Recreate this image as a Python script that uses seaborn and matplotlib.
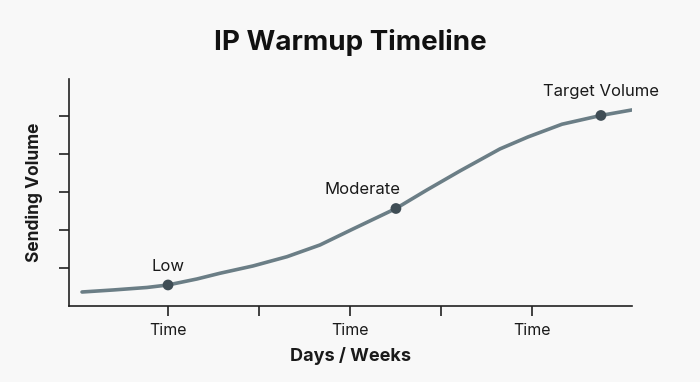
import matplotlib
matplotlib.use("Agg")
import matplotlib.pyplot as plt
import seaborn as sns
import pandas as pd

# Curve (x in "time" units, y in volume units)
curve_x = [0.055, 0.396, 0.769, 1.0, 1.319, 1.571, 1.934, 2.308, 2.670, 3.033,
           3.505, 3.846, 4.209, 4.648, 4.956, 5.330, 5.758, 6.099]
curve_y = [0.368, 0.421, 0.487, 0.553, 0.711, 0.861, 1.053, 1.297, 1.605, 2.026,
           2.565, 3.053, 3.553, 4.132, 4.447, 4.782, 5.013, 5.158]

# Milestones
milestone_labels = ["Low", "Moderate", "Target Volume"]
milestone_x = [1.0, 3.505, 5.758]
milestone_y = [0.553, 2.565, 5.013]

x_ticks = [1, 2, 3, 4, 5]
x_tick_labels = ["Time", "", "Time", "", "Time"]
y_ticks = [1, 2, 3, 4, 5]

sns.set_style("ticks")
plt.rcParams['font.family'] = ['Inter', 'DejaVu Sans']

bg = "#f8f8f8"
fig = plt.figure(figsize=(7.0, 3.82), dpi=100, facecolor=bg)
ax = fig.add_axes([0.0986, 0.199, 0.8043, 0.594])
ax.set_facecolor(bg)

curve_df = pd.DataFrame({"x": curve_x, "y": curve_y})
ms_df = pd.DataFrame({"x": milestone_x, "y": milestone_y, "label": milestone_labels})

sns.lineplot(data=curve_df, x="x", y="y", ax=ax, color="#6b7e86", linewidth=2.6,
             sort=True, estimator=None, solid_joinstyle="round", solid_capstyle="round")
sns.scatterplot(data=ms_df, x="x", y="y", ax=ax, color="#3f4d55", s=60,
                edgecolor="none", zorder=5)

label_offsets = [(0, 8), (-24, 8), (0, 12)]
for lab, xx, yy, off in zip(milestone_labels, milestone_x, milestone_y, label_offsets):
    ax.annotate(lab, (xx, yy), xytext=off, textcoords="offset points",
                ha="center", va="bottom", fontsize=12, color="#1a1a1a")

ax.set_xlim(-0.088, 6.1)
ax.set_ylim(0, 5.97)
ax.set_xticks(x_ticks)
ax.set_xticklabels(x_tick_labels, fontsize=11.5, color="#1a1a1a")
ax.set_yticks(y_ticks)
ax.set_yticklabels([""] * len(y_ticks))
ax.tick_params(axis="both", length=7, width=1.2, color="#222222")
ax.tick_params(axis="x", pad=5)

for s in ["top", "right"]:
    ax.spines[s].set_visible(False)
for s in ["left", "bottom"]:
    ax.spines[s].set_linewidth(1.2)
    ax.spines[s].set_color("#222222")

ax.set_xlabel("Days / Weeks", fontsize=13, fontweight="bold", color="#1a1a1a", labelpad=7)
ax.set_ylabel("Sending Volume", fontsize=12.5, fontweight="bold", color="#1a1a1a", labelpad=8)

fig.text(0.5, 0.89, "IP Warmup Timeline", ha="center", va="center",
         fontsize=20, fontweight="bold", color="#111111")

fig.savefig("out.png", dpi=100, facecolor=bg)
